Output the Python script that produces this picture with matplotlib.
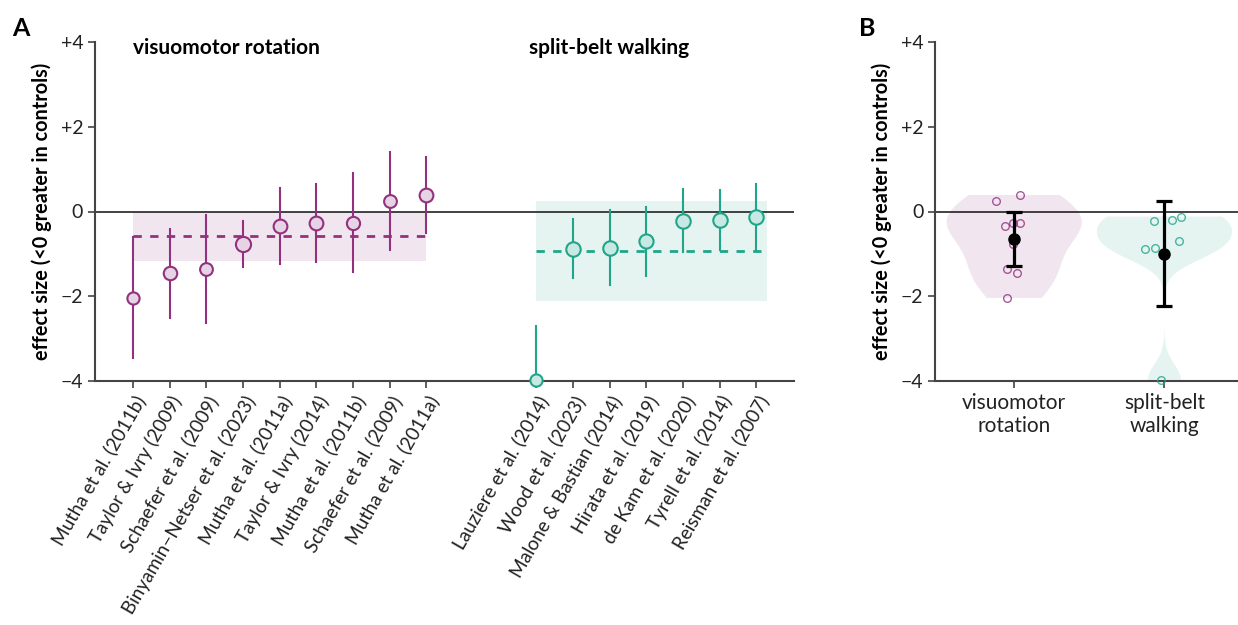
import matplotlib.pyplot as plt
import numpy as np

plt.rcParams['font.family'] = ['Lato', 'DejaVu Sans']

# dados
vmr_labels = ['Mutha et al. (2011b)', 'Taylor & Ivry (2009)', 'Schaefer et al. (2009)',
              'Binyamin\u2212Netser et al. (2023)', 'Mutha et al. (2011a)', 'Taylor & Ivry (2014)',
              'Mutha et al. (2011b)', 'Schaefer et al. (2009)', 'Mutha et al. (2011a)']
vmr_es = [-2.04, -1.45, -1.36, -0.77, -0.34, -0.27, -0.27, 0.25, 0.39]
vmr_lo = [-3.46, -2.51, -2.64, -1.31, -1.24, -1.19, -1.43, -0.91, -0.51]
vmr_hi = [-0.60, -0.41, -0.08, -0.22, 0.55, 0.65, 0.91, 1.40, 1.29]
vmr_pooled = -0.58
vmr_pooled_ci = [-1.17, 0.0]

sbw_labels = ['Lauziere et al. (2014)', 'Wood et al. (2023)', 'Malone & Bastian (2014)',
              'Hirata et al. (2019)', 'de Kam et al. (2020)', 'Tyrell et al. (2014)',
              'Reisman et al. (2007)']
sbw_es = [-3.97, -0.88, -0.86, -0.70, -0.22, -0.20, -0.12]
sbw_lo = [-4.6, -1.57, -1.73, -1.52, -0.95, -0.91, -0.93]
sbw_hi = [-2.70, -0.18, 0.04, 0.10, 0.53, 0.50, 0.65]
sbw_pooled = -0.93
sbw_pooled_ci = [-2.11, 0.25]

grupos = ['visuomotor\nrotation', 'split-belt\nwalking']
media_grupo = [-0.64, -1.00]
ci_grupo_lo = [-1.28, -2.24]
ci_grupo_hi = [0.0, 0.25]
jitter_vmr = [-0.05, 0.02, -0.05, -0.01, -0.06, 0.04, -0.01, -0.12, 0.04]
jitter_sbw = [-0.02, -0.13, -0.06, 0.10, -0.07, 0.05, 0.11]

# cores
roxo = '#93317F'
roxo_claro = '#E6D3E3'
roxo_fundo = '#F1E6EF'
verde = '#1FA68A'
verde_claro = '#C8E9E3'
verde_fundo = '#E5F4F0'
cinza = '#444444'

fig = plt.figure(figsize=(12.38, 6.25), dpi=100)
axA = fig.add_axes([0.0767, 0.3904, 0.565, 0.5424])
axB = fig.add_axes([0.7553, 0.3904, 0.2447, 0.5424])

x_vmr = np.arange(len(vmr_es))
x_sbw = np.arange(len(sbw_es)) + len(vmr_es) + 2
tam_vmr = [8.8, 9.7, 9.2, 10.9, 9.9, 9.9, 9.5, 9.2, 9.9]
tam_sbw = [8.8, 10.4, 10.4, 10.2, 10.4, 10.4, 10.4]


def desenha_grupo(ax, xs, es, lo, hi, tam, cor, cor_claro, cor_fundo, pooled, pooled_ci, x_fim):
    ax.fill_between([xs[0], x_fim], pooled_ci[0], pooled_ci[1], color=cor_fundo, lw=0, zorder=1)
    ax.plot([xs[0], x_fim], [pooled, pooled], ls=(0, (3, 3)), color=cor, lw=2, zorder=2)
    for x, e, l, h, s in zip(xs, es, lo, hi, tam):
        ax.plot([x, x], [l, h], color=cor, lw=1.5, zorder=3)
        ax.plot(x, e, 'o', ms=s, mfc=cor_claro, mec=cor, mew=1.5, zorder=4, clip_on=False)


axA.axhline(0, color='#222222', lw=1.2, zorder=2)
desenha_grupo(axA, x_vmr, vmr_es, vmr_lo, vmr_hi, tam_vmr, roxo, roxo_claro, roxo_fundo,
              vmr_pooled, vmr_pooled_ci, x_vmr[-1])
desenha_grupo(axA, x_sbw, sbw_es, sbw_lo, sbw_hi, tam_sbw, verde, verde_claro, verde_fundo,
              sbw_pooled, sbw_pooled_ci, x_sbw[-1] + 0.28)

axA.set_xlim(-1.04, 18.04)
axA.set_xticks(list(x_vmr) + list(x_sbw))
axA.set_xticklabels(vmr_labels + sbw_labels, rotation=60, ha='right', rotation_mode='anchor',
                    fontsize=13.6)
axA.text(0, 3.86, 'visuomotor rotation', fontsize=15, fontweight='bold', va='center')
axA.text(10.8, 3.86, 'split-belt walking', fontsize=15, fontweight='bold', va='center')

# painel B
dados_b = [vmr_es, sbw_es]
for i, (vals, c, bw) in enumerate(zip(dados_b, [roxo_fundo, verde_fundo], [0.6, 0.27])):
    partes = axB.violinplot([vals], positions=[i], widths=0.9, showextrema=False,
                            bw_method=bw, points=200)
    for corpo in partes['bodies']:
        corpo.set_facecolor(c)
        corpo.set_edgecolor('none')
        corpo.set_alpha(1)

axB.axhline(0, color='#222222', lw=1.2, zorder=2)
for i, (vals, jit, cor) in enumerate(zip(dados_b, [jitter_vmr, jitter_sbw], [roxo, verde])):
    axB.plot(np.array(jit) + i, vals, 'o', ms=5.5, mfc='none', mec=cor, mew=1, alpha=0.8,
             zorder=3, clip_on=False)
    axB.errorbar(i, media_grupo[i],
                 yerr=[[media_grupo[i] - ci_grupo_lo[i]], [ci_grupo_hi[i] - media_grupo[i]]],
                 fmt='o', color='black', ms=8, lw=2.3, capsize=5.5, capthick=2.3, zorder=5)

axB.set_xlim(-0.527, 1.49)
axB.set_xticks([0, 1])
axB.set_xticklabels(grupos, fontsize=15)

for ax in (axA, axB):
    ax.set_ylim(-4, 4)
    ax.set_yticks([4, 2, 0, -2, -4])
    ax.set_yticklabels(['+4', '+2', '0', '\u22122', '\u22124'], fontsize=14)
    ax.set_ylabel('effect size (<0 greater in controls)', fontsize=14.3, fontweight='bold',
                  labelpad=6)
    ax.spines['top'].set_visible(False)
    ax.spines['right'].set_visible(False)
    ax.spines['left'].set_color(cinza)
    ax.spines['bottom'].set_color(cinza)
    ax.spines['left'].set_linewidth(1.5)
    ax.spines['bottom'].set_linewidth(1.5)
    ax.tick_params(color=cinza, width=1.2, length=5, labelcolor='#222222')

fig.text(0.010, 0.955, 'A', fontsize=18, fontweight='bold', va='center')
fig.text(0.694, 0.955, 'B', fontsize=18, fontweight='bold', va='center')

plt.savefig('out.png', dpi=100)
plt.close()
